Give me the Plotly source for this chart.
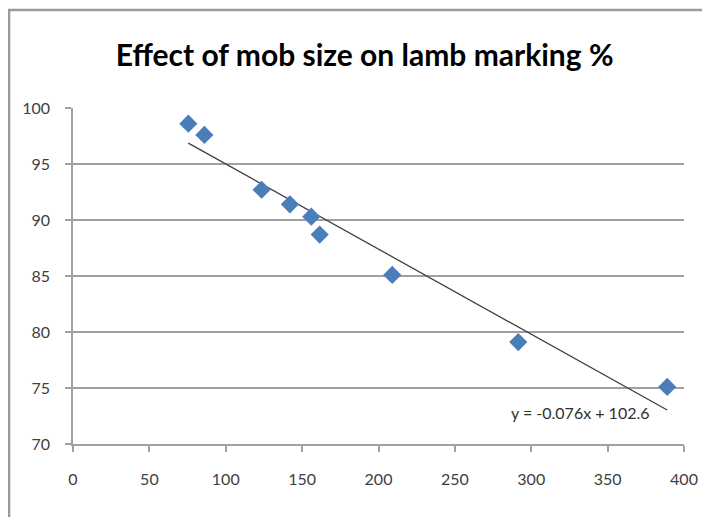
import plotly.graph_objects as go

title = "Effect of mob size on lamb marking %"
mob_size = [75.5, 86, 123.5, 142, 156, 161.5, 209, 291.5, 389]
marking_pct = [98.6, 97.6, 92.7, 91.4, 90.3, 88.7, 85.1, 79.1, 75.1]
slope = -0.076
intercept = 102.6
x_ticks = [0, 50, 100, 150, 200, 250, 300, 350, 400]
y_ticks = [70, 75, 80, 85, 90, 95, 100]

FONT = "Lato, sans-serif"

x0, x1 = min(mob_size), max(mob_size)
trend_x = [x0, x1]
trend_y = [slope * v + intercept for v in trend_x]

fig = go.Figure()
fig.add_trace(go.Scatter(x=trend_x, y=trend_y, mode="lines",
                         line=dict(color="#404040", width=1.3), hoverinfo="skip"))
fig.add_trace(go.Scatter(x=mob_size, y=marking_pct, mode="markers",
                         marker=dict(symbol="diamond", size=14, color="#4A7EBB")))

fig.add_annotation(x=332.5, y=72.8, xref="x", yref="y",
                   text=f"y = {slope:.3f}x + {intercept}", showarrow=False,
                   font=dict(family=FONT, size=16, color="#303030"))

fig.add_shape(type="rect", xref="paper", yref="paper",
              x0=-0.1047, x1=1.2, y0=-0.5, y1=1.2917,
              line=dict(color="#9A9A9A", width=2.5), fillcolor="rgba(0,0,0,0)", layer="below")

fig.update_layout(
    width=702, height=509,
    margin=dict(l=65, r=26, t=100, b=73),
    paper_bgcolor="white", plot_bgcolor="white",
    showlegend=False,
    title=dict(text=title, x=0.508, xanchor="center", y=0.906, yanchor="middle",
               font=dict(family=FONT, size=30, color="#000000", weight="bold")),
    font=dict(family=FONT, size=16, color="#404040"),
)
fig.update_xaxes(range=[0, 400], tickvals=x_ticks, showgrid=False, zeroline=False,
                 showline=True, linecolor="#A0A0A0", linewidth=1.5,
                 ticks="outside", ticklen=6, tickcolor="#A0A0A0", tickwidth=1.5,
                 tickfont=dict(family=FONT, size=16, color="#404040"), ticklabelstandoff=14)
fig.update_yaxes(range=[70, 100], tickvals=y_ticks, showgrid=True, gridcolor="#A0A0A0",
                 gridwidth=1.5, zeroline=False, showline=True, linecolor="#A0A0A0",
                 linewidth=1.5, ticks="outside", ticklen=6, tickcolor="#A0A0A0",
                 tickwidth=1.5, tickfont=dict(family=FONT, size=16, color="#404040"),
                 ticklabelstandoff=12)

fig.write_html("out.html")
